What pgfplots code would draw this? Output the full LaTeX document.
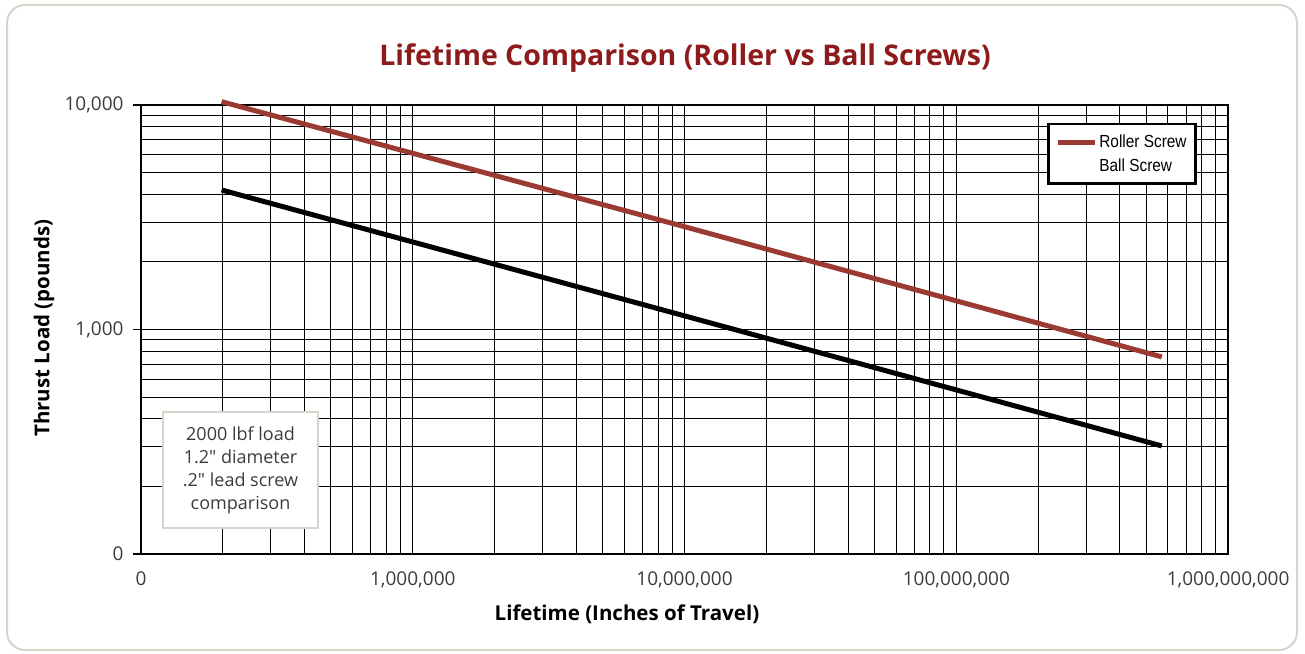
\documentclass[border=0pt]{standalone}
\usepackage{pgfplots}
\pgfplotsset{compat=1.18}
\usepackage{fontspec}
\setmainfont{Open Sans}
\newfontfamily\annfont{Open Sans}[Ligatures=TeXOff]
\newfontfamily\legfont{Liberation Sans}[FakeStretch=0.88]
\definecolor{titlered}{HTML}{8E1B1B}
\definecolor{roller}{HTML}{9A3A32}
\definecolor{framec}{HTML}{DAD3CB}
\definecolor{txt}{HTML}{3C3C3C}
\begin{document}
\begin{tikzpicture}
\useasboundingbox (0bp,0bp) rectangle (1305bp,654bp);
\draw[framec, line width=2bp, rounded corners=18bp] (7bp,4bp) rectangle (1297bp,649bp);
\node[titlered, font=\fontsize{28.5bp}{33bp}\bfseries\selectfont] at (685bp,596bp) {Lifetime Comparison (Roller vs Ball Screws)};
\begin{axis}[
  at={(141bp,100bp)}, anchor=south west,
  width=1087bp, height=449bp, scale only axis,
  xmode=log, ymode=log,
  xmin=1e5, xmax=1e9, ymin=100, ymax=10000,
  clip=false,
  xtick={1e5,1e6,1e7,1e8,1e9},
  xticklabels={0,{1,000,000},{10,000,000},{100,000,000},{1,000,000,000}},
  ytick={100,1000,10000},
  yticklabels={0,{1,000},{10,000}},
  /pgf/number format/assume math mode=true,
  grid=both,
  major grid style={black, line width=1bp},
  minor grid style={black, line width=1bp},
  axis line style={black, line width=2.5bp},
  tick align=outside,
  ytick pos=left,
  xtick pos=bottom,
  major tick length=8bp,
  minor tick length=0pt,
  xtick style={draw=none},
  ytick style={black, line width=1.2bp},
  tick label style={font=\fontsize{19bp}{22bp}\selectfont, text=txt},
  xticklabel style={anchor=base, yshift=-24bp},
  yticklabel style={xshift=-6bp},
  xlabel={Lifetime (Inches of Travel)},
  ylabel={Thrust Load (pounds)},
  label style={font=\fontsize{20.5bp}{24bp}\bfseries\selectfont},
  xlabel style={at={(axis description cs:0.447,-0.1336)}, anchor=center},
  ylabel style={at={(axis description cs:-0.0892,0.503)}, anchor=center},
  legend style={at={(rel axis cs:0.8335,0.96)}, anchor=north west, draw=black, line width=2.5bp,
    font=\legfont\fontsize{17.5bp}{20bp}\selectfont, inner xsep=7bp, inner ysep=9bp, row sep=5bp},
  legend cell align=left,
  legend image code/.code={\draw[#1] (0bp,0bp) -- (37bp,0bp);},
]
\addplot[roller, line width=5bp] coordinates {(1.98e5,10345) (1e7,2870) (5.70e8,755)};
\addlegendentry{Roller Screw}
\addplot[black, line width=5bp, forget plot] coordinates {(1.98e5,4182) (1e7,1150) (5.70e8,303)};
\addlegendimage{opacity=0}
\addlegendentry{Ball Screw}
\end{axis}
\node[draw=framec, line width=2.5bp, fill=white, minimum width=155bp, minimum height=116bp, align=center, text=txt, font=\annfont\fontsize{18bp}{23bp}\selectfont] at (240.5bp,184bp) {2000 lbf load\\1.2" diameter\\.2" lead screw\\comparison};
\end{tikzpicture}
\end{document}
